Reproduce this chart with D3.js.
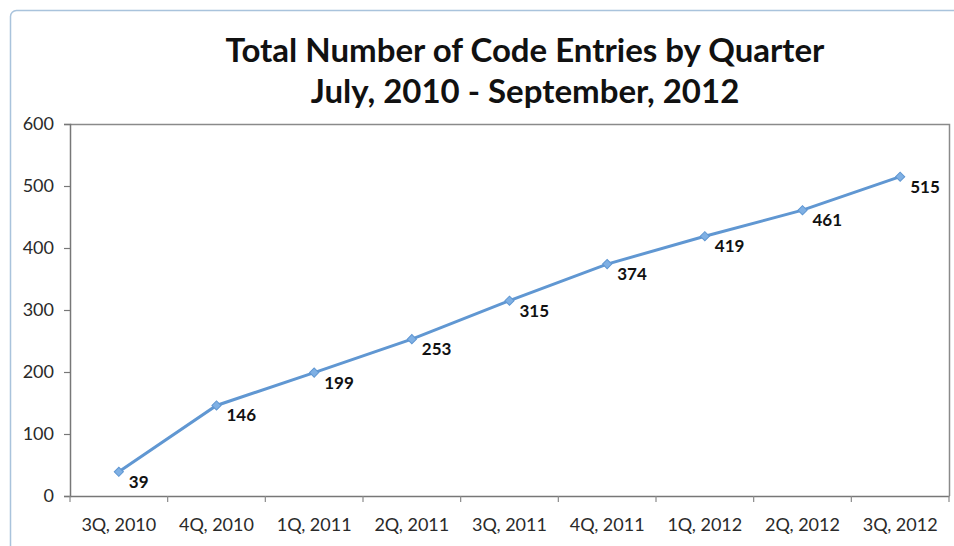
<!doctype html>
<html>
<head>
<meta charset="UTF-8">
<title>Code Entries</title>
<script src="https://d3js.org/d3.v7.min.js"></script>
<style>
  body { margin: 0; background: #fff; }
  text { font-family: Lato, "Open Sans", sans-serif; }
</style>
</head>
<body>
<script>
var quarters = ["3Q, 2010", "4Q, 2010", "1Q, 2011", "2Q, 2011", "3Q, 2011", "4Q, 2011", "1Q, 2012", "2Q, 2012", "3Q, 2012"];
var entries = [39, 146, 199, 253, 315, 374, 419, 461, 515];
var yTicks = [0, 100, 200, 300, 400, 500, 600];
var titleLines = ["Total Number of Code Entries by Quarter", "July, 2010 - September, 2012"];

var w = 954, h = 546;
var pLeft = 70, pRight = 949, pTop = 124, pBottom = 496;

var svg = d3.select("body").append("svg").attr("width", w).attr("height", h);

// outer frame
svg.append("rect")
  .attr("x", 10.5).attr("y", 10.5).attr("width", 960).attr("height", 560)
  .attr("rx", 6).attr("fill", "#fff").attr("stroke", "#a9c3dc").attr("stroke-width", 1.5);

// title
svg.selectAll("text.title").data(titleLines).enter().append("text")
  .attr("class", "title")
  .attr("x", 525)
  .attr("y", function (d, i) { return 62 + i * 41; })
  .attr("text-anchor", "middle")
  .attr("font-size", 33)
  .attr("font-weight", "bold")
  .attr("fill", "#111")
  .text(function (d) { return d; });

var x = d3.scaleBand().domain(quarters).range([pLeft, pRight]);
var y = d3.scaleLinear().domain([0, 600]).range([pBottom, pTop]);

// plot box top/right
svg.append("path")
  .attr("d", "M" + pLeft + "," + (pTop + 0.5) + "H" + (pRight + 0.5) + "V" + pBottom)
  .attr("fill", "none").attr("stroke", "#8a8a8a").attr("stroke-width", 1.5);

var yAxis = svg.append("g")
  .attr("transform", "translate(" + pLeft + ",0)")
  .call(d3.axisLeft(y).tickValues(yTicks).tickSize(6).tickPadding(10));

var xAxis = svg.append("g")
  .attr("transform", "translate(0," + pBottom + ")")
  .call(d3.axisBottom(x).tickSize(0).tickPadding(22));

// tick marks between categories
xAxis.selectAll("line.sep")
  .data(quarters.concat(["end"]))
  .enter().append("line")
  .attr("class", "sep")
  .attr("x1", function (d, i) { return pLeft + i * x.step(); })
  .attr("x2", function (d, i) { return pLeft + i * x.step(); })
  .attr("y1", 0).attr("y2", 6)
  .attr("stroke", "#8a8a8a").attr("stroke-width", 1.2);

[yAxis, xAxis].forEach(function (g) {
  g.select(".domain").attr("stroke", "#777").attr("stroke-width", 1.5);
  g.selectAll(".tick line").attr("stroke", "#777").attr("stroke-width", 1.2);
  g.selectAll("text").attr("font-size", 18).attr("fill", "#2a2a2a")
    .style("font-family", "Lato, 'Open Sans', sans-serif");
});

var cx = function (d, i) { return x(quarters[i]) + x.bandwidth() / 2; };

var line = d3.line()
  .x(function (d, i) { return cx(d, i); })
  .y(function (d) { return y(d); });

svg.append("path")
  .datum(entries)
  .attr("d", line)
  .attr("fill", "none")
  .attr("stroke", "#6097d2")
  .attr("stroke-width", 3);

svg.selectAll("path.pt").data(entries).enter().append("path")
  .attr("class", "pt")
  .attr("d", d3.symbol().type(d3.symbolSquare).size(42))
  .attr("transform", function (d, i) { return "translate(" + cx(d, i) + "," + y(d) + ") rotate(45)"; })
  .attr("fill", "#7fb0e4")
  .attr("stroke", "#6097d2")
  .attr("stroke-width", 1);

svg.selectAll("text.lbl").data(entries).enter().append("text")
  .attr("class", "lbl")
  .attr("x", function (d, i) { return cx(d, i) + 10; })
  .attr("y", function (d) { return y(d) + 16; })
  .attr("font-size", 17)
  .attr("font-weight", "bold")
  .attr("fill", "#111")
  .text(function (d) { return d; });
</script>
</body>
</html>
